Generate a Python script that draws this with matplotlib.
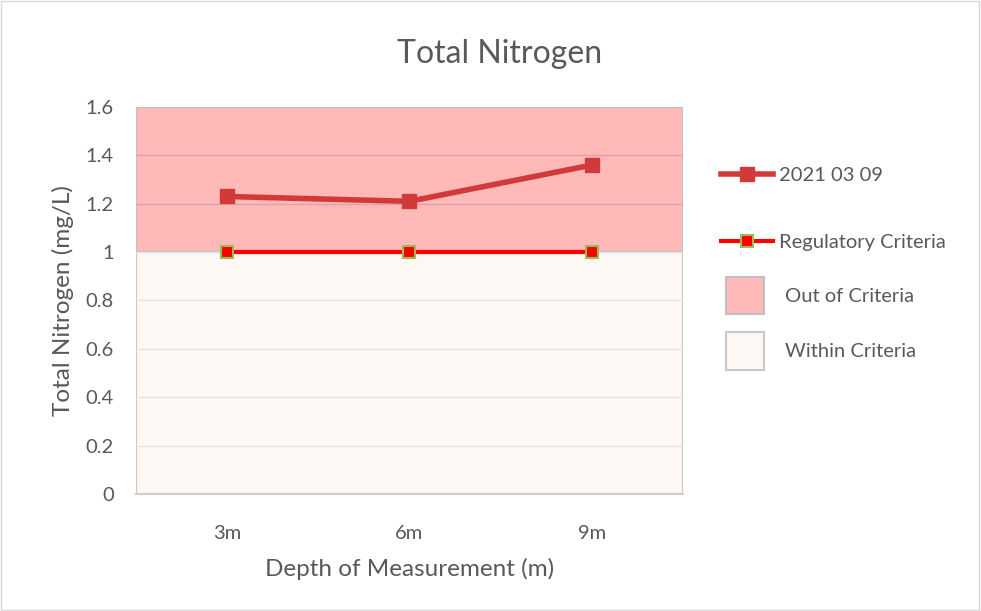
import numpy as np
import matplotlib.pyplot as plt
from matplotlib.lines import Line2D
from matplotlib.patches import Patch, Rectangle
from matplotlib.legend_handler import HandlerPatch

plt.rcParams['font.family'] = ['Lato', 'DejaVu Sans']

depths = ["3m", "6m", "9m"]
nitrogen_2021_03_09 = [1.23, 1.21, 1.36]
regulatory = [1.0, 1.0, 1.0]
y_max = 1.6
y_ticks = [0, 0.2, 0.4, 0.6, 0.8, 1, 1.2, 1.4, 1.6]

text_col = '#595959'
x = np.arange(len(depths))

fig = plt.figure(figsize=(9.81, 6.11), dpi=100)
ax = fig.add_axes([0.1386, 0.1915, 0.5576, 0.6334])

# shaded criteria bands
crit = regulatory[0]
ax.axhspan(0, crit, facecolor='#fdf8f4', edgecolor='#c8c8c8', lw=1.5, zorder=0)
ax.axhspan(crit, y_max, facecolor='#ffb9b9', edgecolor='#c0c0c0', lw=1.5, zorder=0)

for t in y_ticks[1:-1]:
    c = '#e0a3a3' if t > crit else '#e6e3e0'
    ax.axhline(t, color=c, lw=1, zorder=1)

ax.plot(x, regulatory, color='#ff0000', lw=3, marker='s', ms=9,
        mfc='#ff0000', mec='#9bbb59', mew=1.5, zorder=3)
ax.plot(x, nitrogen_2021_03_09, color='#d23a3a', lw=4, marker='s', ms=10.5,
        mfc='#d23a3a', mec='#d23a3a', zorder=4)

ax.set_xlim(-0.5, len(depths) - 0.5)
ax.set_ylim(0, y_max)
ax.set_xticks(x)
ax.set_xticklabels(depths)
ax.set_yticks(y_ticks)
ax.set_yticklabels([f"{t:g}" for t in y_ticks])
ax.tick_params(length=0, labelsize=14.5, colors=text_col)
ax.tick_params(axis='y', pad=16)
ax.tick_params(axis='x', pad=22)
for s in ['top', 'right', 'left']:
    ax.spines[s].set_visible(False)
ax.spines['bottom'].set_color('#d0d0d0')
ax.spines['bottom'].set_linewidth(1.5)

ax.set_xlabel("Depth of Measurement (m)", fontsize=17.5, color=text_col, labelpad=12)
ax.set_ylabel("Total Nitrogen (mg/L)", fontsize=17.5, color=text_col, labelpad=8)
fig.text(0.509, 0.912, "Total Nitrogen", fontsize=23, color=text_col, ha='center', va='center')


def square_patch(legend, orig_handle, xdescent, ydescent, width, height, fontsize):
    return Rectangle((-xdescent, -ydescent), height, height)


line_handles = [
    Line2D([], [], color='#d23a3a', lw=4, marker='s', ms=10.5, mfc='#d23a3a', mec='#d23a3a'),
    Line2D([], [], color='#ff0000', lw=3, marker='s', ms=9, mfc='#ff0000', mec='#9bbb59', mew=1.5),
]
patch_handles = [
    Patch(facecolor='#ffb9b9', edgecolor='#c0c0c0', lw=1.5),
    Patch(facecolor='#fdf8f4', edgecolor='#c8c8c8', lw=1.5),
]
leg1 = fig.legend(line_handles, ["2021 03 09", "Regulatory Criteria"], loc='upper left',
                  bbox_to_anchor=(0.716, 0.757), frameon=False, fontsize=14.5,
                  labelcolor=text_col, handlelength=2.6, labelspacing=2.5, handletextpad=0.3)
leg2 = fig.legend(patch_handles, ["Out of Criteria", "Within Criteria"], loc='upper left',
                  bbox_to_anchor=(0.722, 0.577), frameon=False, fontsize=14.5,
                  labelcolor=text_col, handlelength=2.6, handleheight=2.5, labelspacing=0.9,
                  handletextpad=0.3, handler_map={Patch: HandlerPatch(patch_func=square_patch)})

fig.patches.append(plt.Rectangle((0.001, 0.001), 0.997, 0.997, transform=fig.transFigure,
                                 fill=False, edgecolor='#d9d9d9', lw=1))

fig.savefig("out.png", dpi=100)
